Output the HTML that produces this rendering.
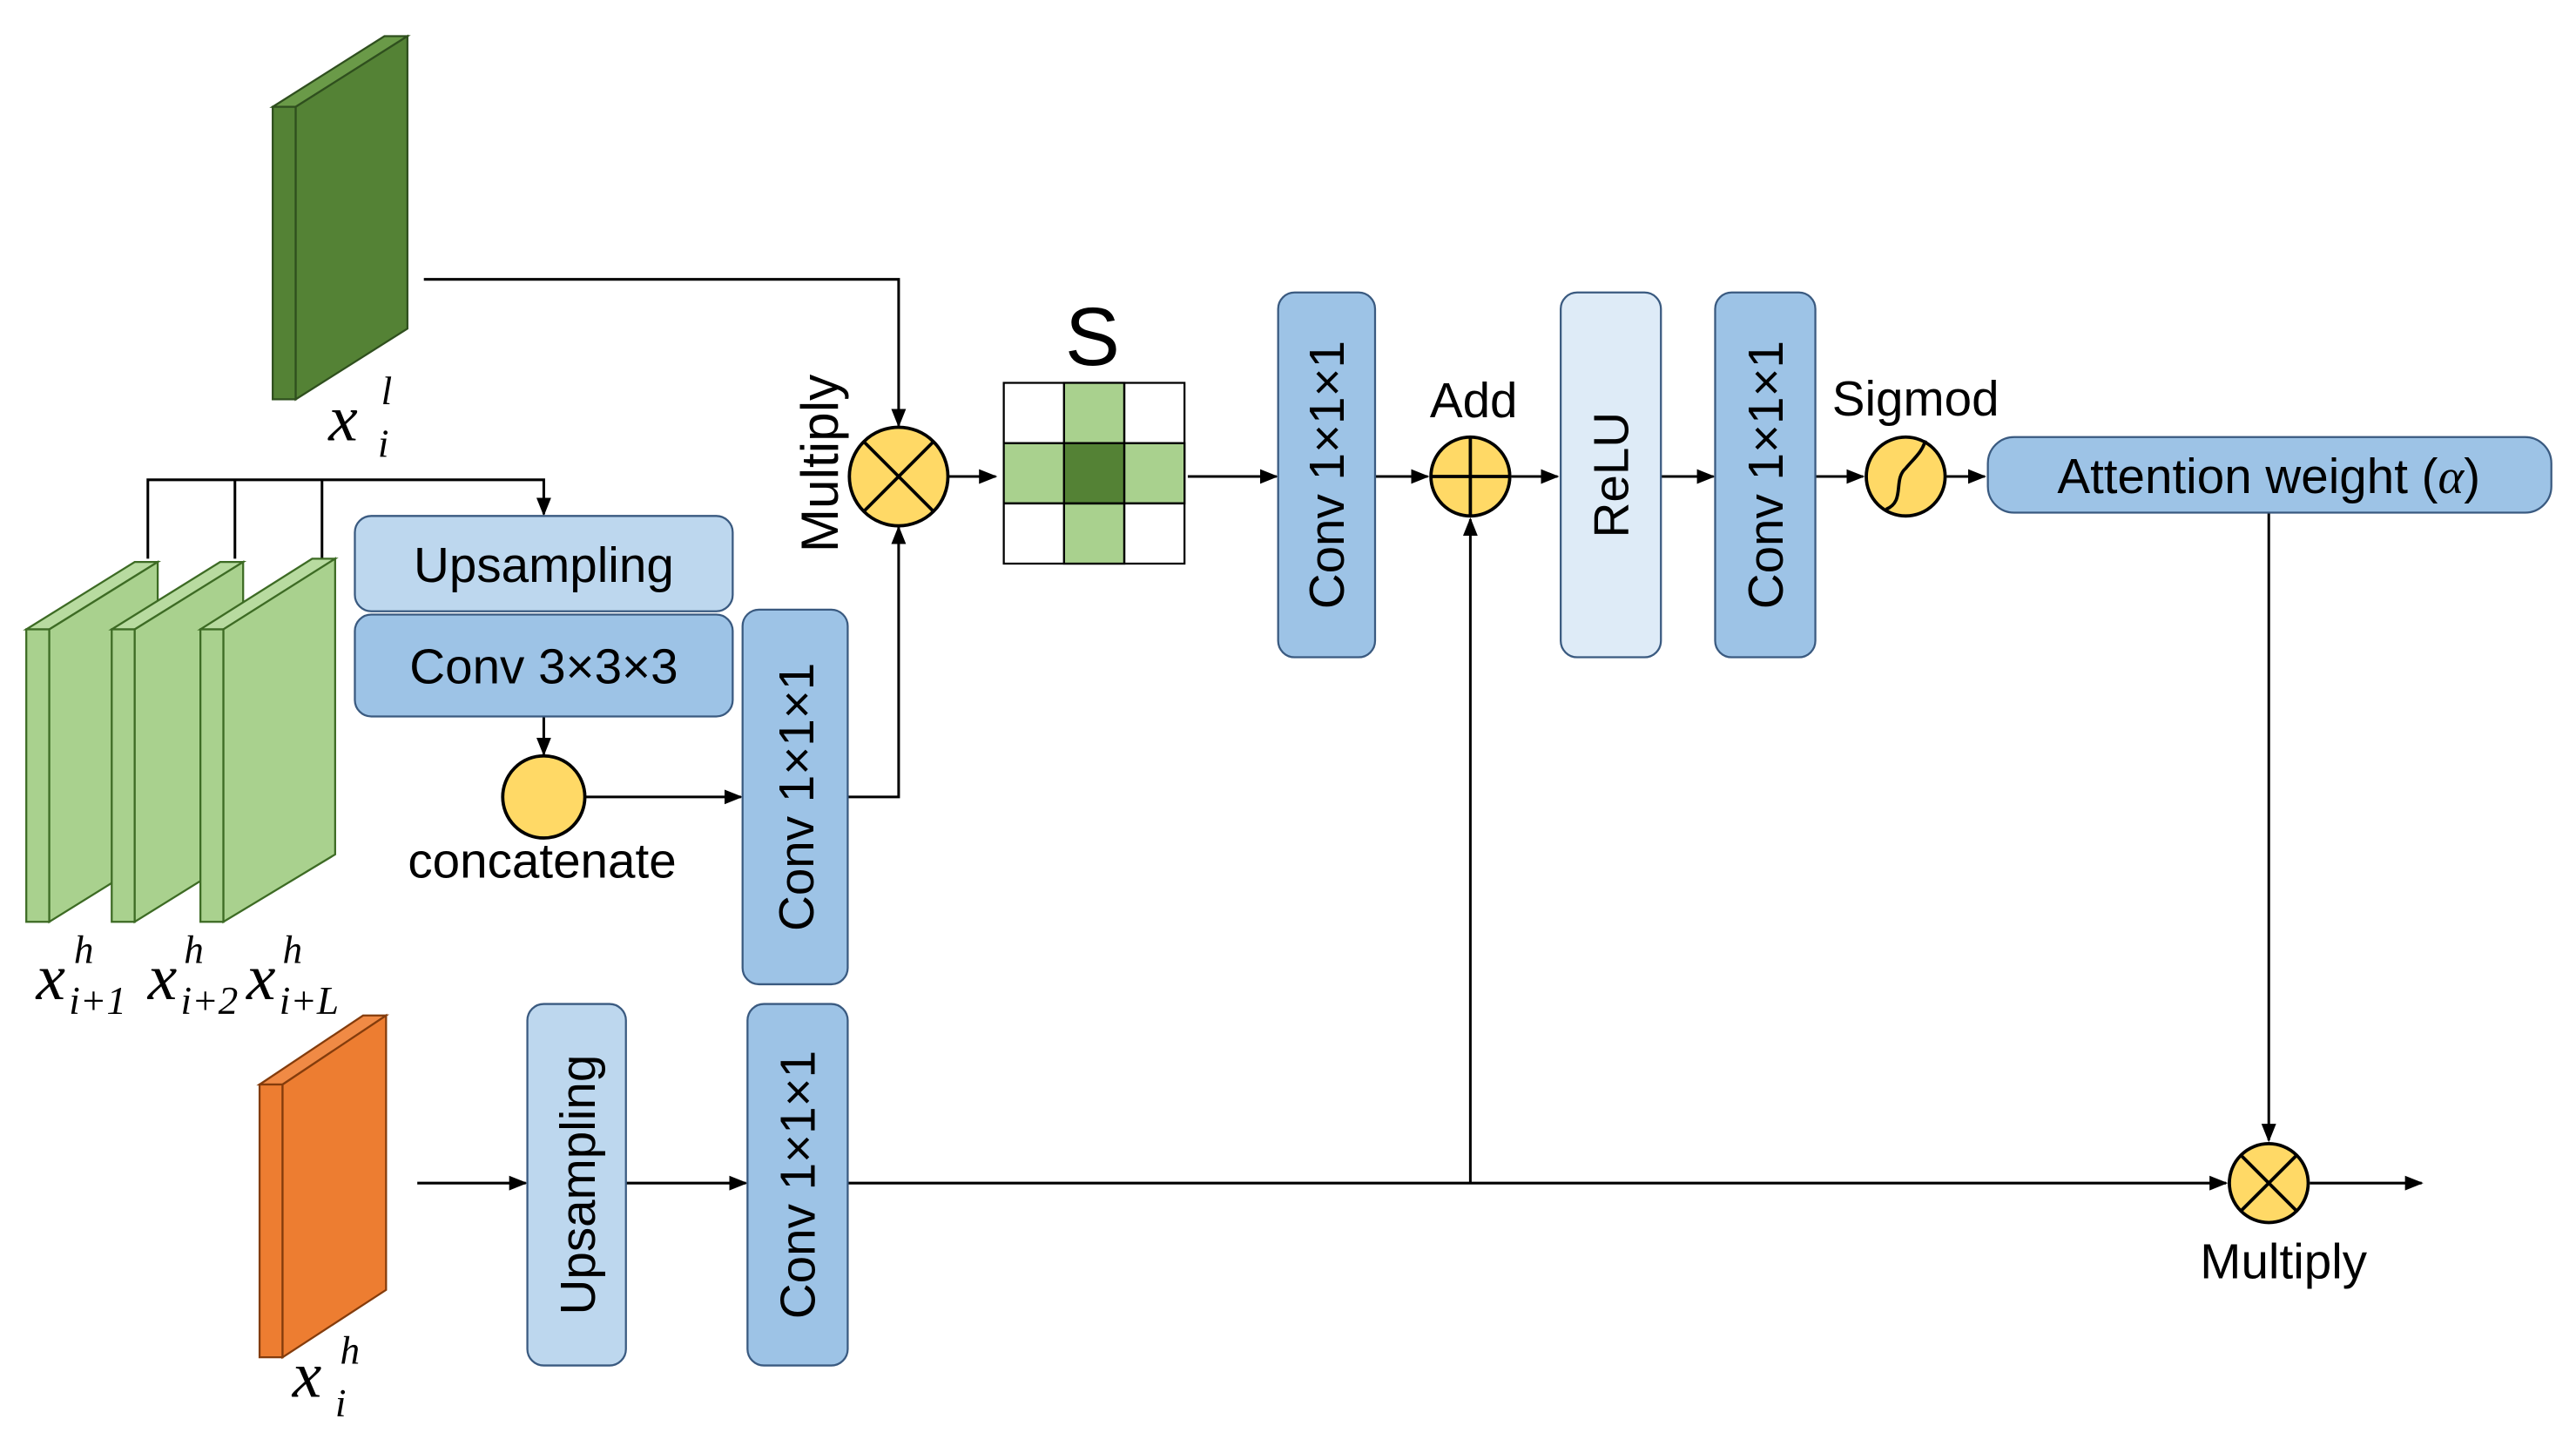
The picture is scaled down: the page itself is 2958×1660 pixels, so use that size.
<!DOCTYPE html>
<html><head><meta charset="utf-8"><style>
html,body{margin:0;padding:0;background:#fff;}
svg{display:block;}
text{font-family:"Liberation Sans",sans-serif;fill:#000;}
.m{font-family:"Liberation Serif",serif;font-style:italic;}
</style></head><body>
<svg width="2958" height="1660" viewBox="0 0 1568 880" preserveAspectRatio="none" xmlns="http://www.w3.org/2000/svg">
<defs>
<marker id="a" viewBox="0 0 10 10" refX="9" refY="5" markerWidth="7" markerHeight="7" orient="auto"><path d="M0,1 L10,5 L0,9 z" fill="#000"/></marker>
</defs>
<g stroke="#000" stroke-width="1.6" fill="none" marker-end="url(#a)">
<polyline points="258,170 547,170 547,259"/>
<line x1="577" y1="290" x2="606" y2="290"/>
<line x1="723" y1="290" x2="777" y2="290"/>
<line x1="837" y1="290" x2="869" y2="290"/>
<line x1="920" y1="290" x2="948" y2="290"/>
<line x1="1011" y1="290" x2="1043" y2="290"/>
<line x1="1105" y1="290" x2="1134" y2="290"/>
<line x1="1185" y1="290" x2="1208" y2="290"/>
<line x1="1381" y1="312" x2="1381" y2="694"/>
<line x1="1406" y1="720" x2="1474" y2="720"/>
<line x1="516" y1="720" x2="1355" y2="720"/>
<line x1="895" y1="720" x2="895" y2="316"/>
<line x1="254" y1="720" x2="320" y2="720"/>
<line x1="381" y1="720" x2="454" y2="720"/>
<polyline points="90,340 90,292 331,292 331,313"/>
<line x1="331" y1="436" x2="331" y2="459"/>
<line x1="356" y1="485" x2="451" y2="485"/>
<polyline points="516,485 547,485 547,321"/>
</g>
<g stroke="#000" stroke-width="1.6"><line x1="143" y1="292" x2="143" y2="340"/><line x1="196" y1="292" x2="196" y2="340"/></g>

<g stroke="#2f4f1e" stroke-width="1.2">
<polygon points="166,65 234,22 248,22 180,65" fill="#6a9a48"/>
<rect x="166" y="65" width="14" height="178" fill="#548235"/>
<polygon points="180,65 248,22 248,200 180,243" fill="#548235"/>
</g>
<g stroke="#3d6b24" stroke-width="1.2">
<polygon points="16,383 82,342 96,342 30,383" fill="#b8dba0"/>
<rect x="16" y="383" width="14" height="178" fill="#a9d18e"/>
<polygon points="30,383 96,342 96,520 30,561" fill="#a9d18e"/>
<polygon points="68,383 134,342 148,342 82,383" fill="#b8dba0"/>
<rect x="68" y="383" width="14" height="178" fill="#a9d18e"/>
<polygon points="82,383 148,342 148,520 82,561" fill="#a9d18e"/>
<polygon points="122,383 190,340 204,340 136,383" fill="#b8dba0"/>
<rect x="122" y="383" width="14" height="178" fill="#a9d18e"/>
<polygon points="136,383 204,340 204,520 136,561" fill="#a9d18e"/>
</g>
<g stroke="#843c0c" stroke-width="1.2">
<polygon points="158,660 221,618 235,618 172,660" fill="#f08a45"/>
<rect x="158" y="660" width="14" height="166" fill="#ed7d31"/>
<polygon points="172,660 235,618 235,785 172,826" fill="#ed7d31"/>
</g>

<g stroke="#3a5a80" stroke-width="1.2">
<rect x="216" y="314" width="230" height="58" rx="10" fill="#bdd7ee"/>
<rect x="216" y="374" width="230" height="62" rx="10" fill="#9dc3e6"/>
<rect x="452" y="371" width="64" height="228" rx="10" fill="#9dc3e6"/>
<rect x="321" y="611" width="60" height="220" rx="10" fill="#bdd7ee"/>
<rect x="455" y="611" width="61" height="220" rx="10" fill="#9dc3e6"/>
<rect x="778" y="178" width="59" height="222" rx="10" fill="#9dc3e6"/>
<rect x="950" y="178" width="61" height="222" rx="10" fill="#deebf7"/>
<rect x="1044" y="178" width="61" height="222" rx="10" fill="#9dc3e6"/>
<rect x="1210" y="266" width="343" height="46" rx="16" fill="#9dc3e6"/>
</g>

<g stroke="#000" stroke-width="1.2">
<rect x="611" y="233" width="110" height="110" fill="#fff"/>
<rect x="647.7" y="233" width="36.7" height="110" fill="#a9d18e"/>
<rect x="611" y="269.7" width="110" height="36.7" fill="#a9d18e"/>
<rect x="647.7" y="269.7" width="36.7" height="36.7" fill="#548235"/>
<line x1="647.7" y1="233" x2="647.7" y2="343"/><line x1="684.3" y1="233" x2="684.3" y2="343"/>
<line x1="611" y1="269.7" x2="721" y2="269.7"/><line x1="611" y1="306.3" x2="721" y2="306.3"/>
</g>

<g stroke="#000" stroke-width="2" fill="#ffd966">
<circle cx="547" cy="290" r="30"/>
<circle cx="895" cy="290" r="24"/>
<circle cx="1160" cy="290" r="24"/>
<circle cx="1381" cy="720" r="24"/>
<circle cx="331" cy="485" r="25"/>
</g>
<g stroke="#000" stroke-width="2" fill="none">
<line x1="526" y1="269" x2="568" y2="311"/><line x1="568" y1="269" x2="526" y2="311"/>
<line x1="871" y1="290" x2="919" y2="290"/><line x1="895" y1="266" x2="895" y2="314"/>
<path d="M1148,310 C1160,305 1152,292 1160,285 C1166,278 1170,275 1172,268"/>
<line x1="1364" y1="703" x2="1398" y2="737"/><line x1="1398" y1="703" x2="1364" y2="737"/>
</g>

<g font-size="30">
<text x="331" y="354" text-anchor="middle">Upsampling</text>
<text x="331" y="416" text-anchor="middle">Conv 3×3×3</text>
<text x="330" y="534" text-anchor="middle">concatenate</text>
<text x="897" y="254" text-anchor="middle">Add</text>
<text x="1166" y="253" text-anchor="middle">Sigmod</text>
<text x="1381" y="300" text-anchor="middle">Attention weight (<tspan class="m">α</tspan>)</text>
<text x="1390" y="778" text-anchor="middle">Multiply</text>
<text transform="translate(510,282) rotate(-90)" text-anchor="middle" font-size="32">Multiply</text>
<text transform="translate(495,485) rotate(-90)" text-anchor="middle">Conv 1×1×1</text>
<text transform="translate(362,721) rotate(-90)" text-anchor="middle">Upsampling</text>
<text transform="translate(496,721) rotate(-90)" text-anchor="middle">Conv 1×1×1</text>
<text transform="translate(818,289) rotate(-90)" text-anchor="middle">Conv 1×1×1</text>
<text transform="translate(991,289) rotate(-90)" text-anchor="middle">ReLU</text>
<text transform="translate(1085,289) rotate(-90)" text-anchor="middle">Conv 1×1×1</text>
</g>
<text x="665" y="222" font-size="50" text-anchor="middle">S</text>
<g class="m">
<text x="200" y="268" font-size="40" class="m">x</text><text x="232" y="246" font-size="24" class="m">l</text><text x="230" y="278" font-size="24" class="m">i</text>
<text x="22" y="608" font-size="40" class="m">x</text><text x="45" y="586" font-size="24" class="m">h</text><text x="42" y="617" font-size="24" class="m">i+1</text>
<text x="90" y="608" font-size="40" class="m">x</text><text x="112" y="586" font-size="24" class="m">h</text><text x="110" y="617" font-size="24" class="m">i+2</text>
<text x="150" y="608" font-size="40" class="m">x</text><text x="172" y="586" font-size="24" class="m">h</text><text x="170" y="617" font-size="24" class="m">i+L</text>
<text x="178" y="850" font-size="40" class="m">x</text><text x="207" y="830" font-size="24" class="m">h</text><text x="204" y="862" font-size="24" class="m">i</text>
</g>
</svg>
</body></html>
